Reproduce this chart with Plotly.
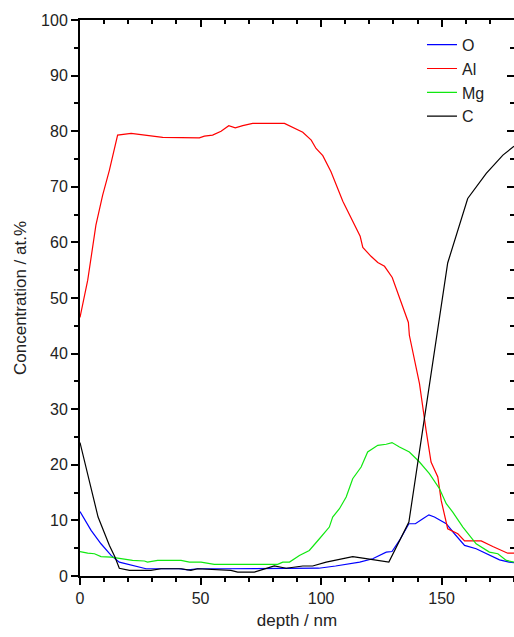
import plotly.graph_objects as go

# ---- data ----
o_depth = [0, 4.6, 8.7, 12.9, 16.3, 21.8, 27.4, 33, 41, 44.7, 48.8, 60, 72, 85, 99, 106, 116, 121.4,
           127, 129.4, 132.5, 136.4, 139.1, 142.2, 144.7, 147, 151.9, 155.3, 159.5, 164.3, 169.8, 174, 178, 180]
o_conc = [11.6, 8.2, 5.8, 3.7, 2.5, 1.9, 1.3, 1.3, 1.3, 1.1, 1.3, 1.3, 1.3, 1.4, 1.4, 1.8, 2.5, 3.1,
          4.3, 4.4, 6.4, 9.4, 9.4, 10.3, 11.0, 10.6, 9.4, 7.6, 5.5, 4.9, 3.7, 2.9, 2.5, 2.4]

al_depth = [0, 3.2, 6.6, 9.4, 12.2, 15.6, 21.2, 26, 34.3, 49.5, 51.6, 55, 58.5, 61.7, 64.4, 67.5, 71.6,
            84.8, 88.9, 92.4, 95.9, 97.9, 100.7, 104.1, 109, 112.4, 116.2, 117.3, 120.7, 123.5, 126.3,
            129.5, 132.5, 136.2, 136.6, 138, 140.8, 143.6, 145.6, 148.4, 149.8, 152.5, 156.7, 159.5,
            166.4, 171.2, 177.4, 180]
al_conc = [46.5, 53.2, 63.1, 68.5, 73, 79.3, 79.6, 79.3, 78.9, 78.8, 79.1, 79.3, 80.0, 81.0, 80.6, 81.0, 81.4,
           81.4, 80.5, 79.8, 78.4, 76.9, 75.6, 72.7, 67.4, 64.3, 61.1, 59.1, 57.5, 56.4, 55.7,
           53.7, 50.2, 45.6, 43.3, 40.6, 34.6, 26, 20.5, 17.8, 13.6, 8.5, 7.6, 6.3,
           6.3, 5.3, 4.1, 4.1]

mg_depth = [0, 3.2, 6, 8.7, 12.9, 17, 21.8, 26.7, 28, 32.2, 41.9, 45.4, 50.2, 55.7, 70, 82, 84.1, 86.9,
            91, 95.1, 99.3, 103.4, 104.8, 107.6, 110.4, 113.1, 116.6, 119.3, 123.5, 127, 129.4, 132.5,
            136.6, 140.8, 144.9, 149.1, 151.9, 154.6, 158.8, 164.3, 169.8, 173.3, 176.8, 180]
mg_conc = [4.4, 4.1, 4.0, 3.5, 3.4, 3.1, 2.8, 2.7, 2.5, 2.8, 2.8, 2.5, 2.5, 2.1, 2.1, 2.1, 2.5, 2.5,
           3.7, 4.6, 6.7, 8.8, 10.6, 12.1, 14.2, 17.5, 19.6, 22.3, 23.5, 23.7, 24.0, 23.2,
           22.3, 20.5, 18.4, 15.7, 13.0, 11.5, 8.8, 5.8, 4.3, 4.0, 2.8, 2.5]

c_depth = [0, 3.9, 7.5, 12.2, 14.5, 16.3, 20.5, 29.4, 33.6, 42, 46, 48.8, 62.6, 65.4, 72.3, 80.6, 85.5,
           92.4, 96.5, 102.1, 106.9, 113.1, 117.3, 122.8, 128.1, 136.4, 152.5, 160.8, 168.5, 175.4, 180]
c_conc = [24, 17.0, 10.6, 5.5, 3.4, 1.4, 1.0, 1.0, 1.3, 1.3, 1.0, 1.3, 1.0, 0.7, 0.7, 1.8, 1.4,
          1.8, 1.8, 2.5, 2.9, 3.5, 3.2, 2.9, 2.5, 9.7, 56.3, 67.9, 72.4, 75.7, 77.3]

x_ticks = [0, 50, 100, 150]
y_ticks = [0, 10, 20, 30, 40, 50, 60, 70, 80, 90, 100]

FONT = "Liberation Sans, Arial, sans-serif"

fig = go.Figure()
series = [("O", o_depth, o_conc, "#0000ff"),
          ("Al", al_depth, al_conc, "#ff0000"),
          ("Mg", mg_depth, mg_conc, "#10e810"),
          ("C", c_depth, c_conc, "#000000")]
for name, xs, ys, col in series:
    fig.add_trace(go.Scatter(x=xs, y=ys, mode="lines", name=name,
                             line=dict(color=col, width=1.2), cliponaxis=True))

# invisible trace for mirrored axes (ticks inside on top/right)
fig.add_trace(go.Scatter(x=[None], y=[None], xaxis="x2", yaxis="y2",
                         showlegend=False, hoverinfo="skip"))

axis_common = dict(showline=True, linecolor="black", linewidth=2, showgrid=False,
                   zeroline=False, tickcolor="black", tickwidth=1.5,
                   tickfont=dict(family=FONT, size=16, color="#222"))

fig.update_layout(
    width=514, height=637,
    margin=dict(l=80, r=0, t=20, b=61),
    paper_bgcolor="white", plot_bgcolor="white",
    font=dict(family=FONT, size=16, color="#222"),
    showlegend=True,
    legend=dict(x=0.788, y=0.986, xanchor="left", yanchor="top",
                bgcolor="rgba(0,0,0,0)", font=dict(family=FONT, size=16, color="#222")),
    xaxis=dict(range=[0, 180], tickvals=x_ticks, ticks="outside", ticklen=7,
               minor=dict(dtick=10, ticks="outside", ticklen=4, tickcolor="black", tickwidth=1.5),
               title=dict(text="depth / nm", font=dict(family=FONT, size=17, color="#222"), standoff=8),
               **axis_common),
    yaxis=dict(range=[0, 100], tickvals=y_ticks, ticks="outside", ticklen=7,
               minor=dict(dtick=5, ticks="outside", ticklen=4, tickcolor="black", tickwidth=1.5),
               title=dict(text="Concentration / at.%", font=dict(family=FONT, size=17, color="#222"), standoff=10),
               **axis_common),
    xaxis2=dict(range=[0, 180], overlaying="x", side="top", anchor="y2", tickvals=x_ticks,
                ticks="inside", ticklen=7, showticklabels=False,
                minor=dict(dtick=10, ticks="inside", ticklen=4, tickcolor="black", tickwidth=1.5),
                **axis_common),
    yaxis2=dict(range=[0, 100], overlaying="y", side="right", anchor="x2", tickvals=y_ticks,
                ticks="inside", ticklen=7, showticklabels=False,
                minor=dict(dtick=5, ticks="inside", ticklen=4, tickcolor="black", tickwidth=1.5),
                **axis_common),
)

fig.write_html("out.html", config={"displayModeBar": False},
               post_script="document.body.style.margin='0';document.body.style.overflow='hidden';")
